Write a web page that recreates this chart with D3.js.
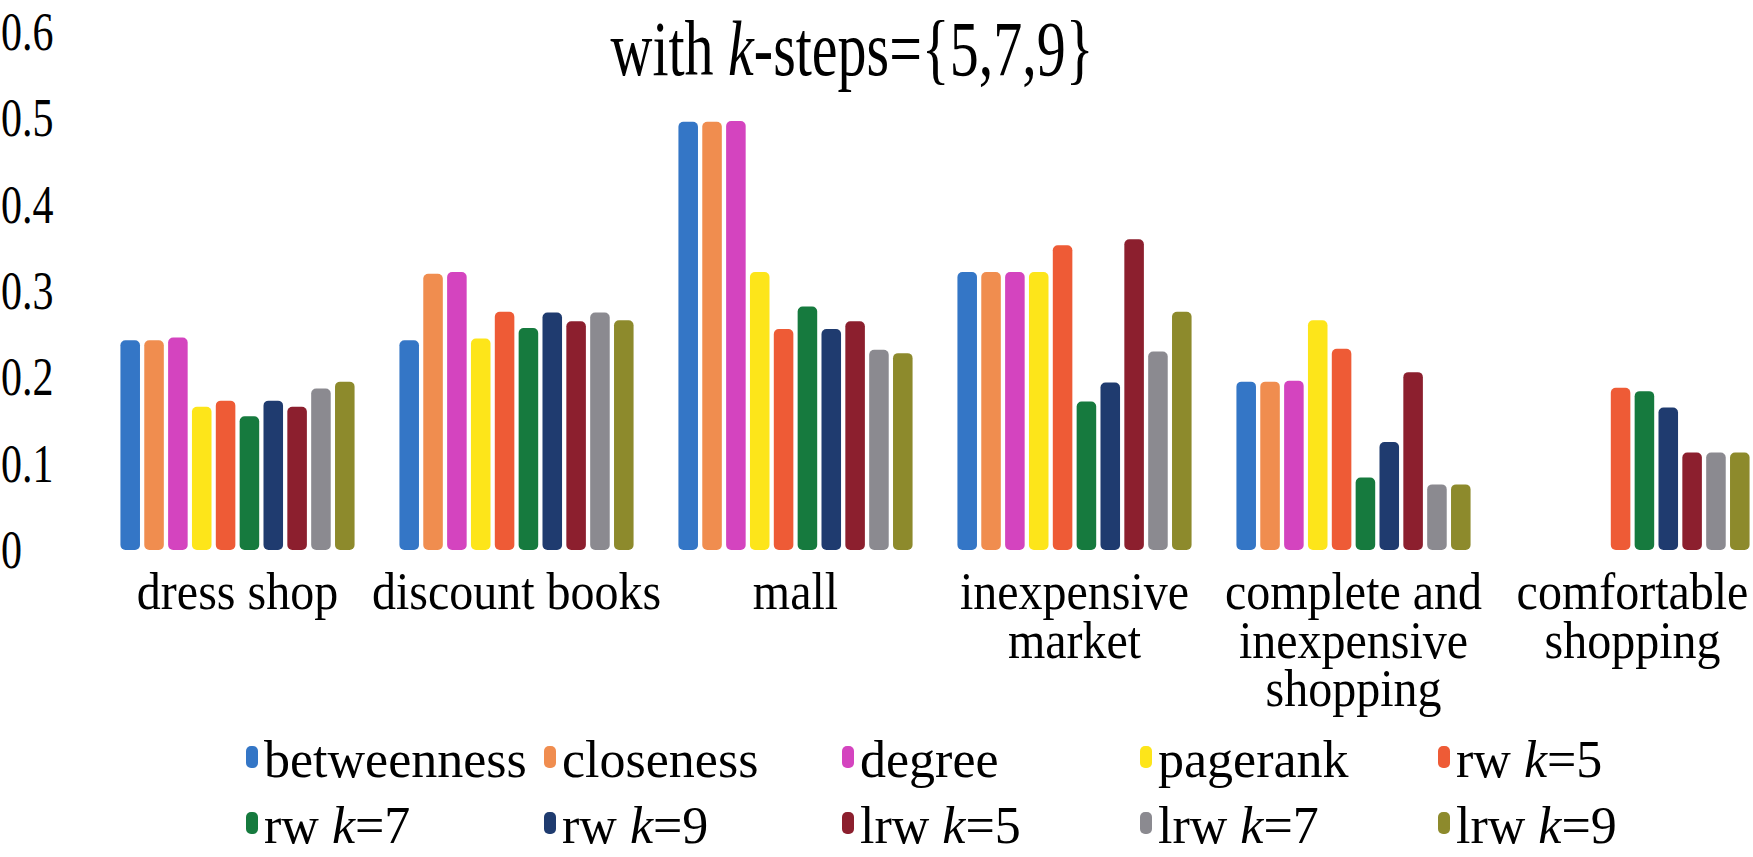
<!DOCTYPE html>
<html>
<head>
<meta charset="utf-8">
<script src="https://cdn.jsdelivr.net/npm/d3@7"></script>
<style>
  body { margin: 0; background: #fff; }
  svg { display: block; }
  svg text { font-family: "Liberation Serif", "Times New Roman", Times, "DejaVu Serif", serif; fill: #000; }
</style>
</head>
<body>
<div id="chart"></div>
<script>
// 画布大小
const width = 1753, height = 857;
const serif = "'Liberation Serif', 'Times New Roman', Times, 'DejaVu Serif', serif";

// 数据
const categories = [
  ["dress shop"],
  ["discount books"],
  ["mall"],
  ["inexpensive", "market"],
  ["complete and", "inexpensive", "shopping"],
  ["comfortable", "shopping"]
];
const seriesNames = ["betweenness", "closeness", "degree", "pagerank", "rw k=5",
                     "rw k=7", "rw k=9", "lrw k=5", "lrw k=7", "lrw k=9"];
const seriesColors = ["#3476c6", "#f08d4f", "#d444bf", "#fde51a", "#ee5b36",
                      "#167a3e", "#1f3b6f", "#8c1f2e", "#8b8a90", "#8d8a2c"];
const yTicks = [0, 0.1, 0.2, 0.3, 0.4, 0.5, 0.6];

// 每个系列在6个类别上的取值 (null = 无柱)
const betweenness = [0.243, 0.243, 0.496, 0.322, 0.195, null];
const closeness   = [0.243, 0.320, 0.496, 0.322, 0.195, null];
const degree      = [0.246, 0.322, 0.497, 0.322, 0.196, null];
const pagerank    = [0.166, 0.245, 0.322, 0.322, 0.266, null];
const rwK5        = [0.173, 0.276, 0.256, 0.353, 0.233, 0.188];
const rwK7        = [0.155, 0.257, 0.282, 0.172, 0.084, 0.184];
const rwK9        = [0.173, 0.275, 0.256, 0.194, 0.125, 0.165];
const lrwK5       = [0.166, 0.265, 0.265, 0.360, 0.206, 0.113];
const lrwK7       = [0.187, 0.275, 0.232, 0.230, 0.076, 0.113];
const lrwK9       = [0.195, 0.266, 0.228, 0.276, 0.076, 0.113];
const seriesValues = [betweenness, closeness, degree, pagerank, rwK5, rwK7, rwK9, lrwK5, lrwK7, lrwK9];

const svg = d3.select("#chart").append("svg")
  .attr("width", width)
  .attr("height", height)
  .style("font-family", serif);

// 比例尺
const x0 = d3.scaleBand()
  .domain(d3.range(categories.length))
  .range([98, 1772])
  .paddingInner(0.13)
  .paddingOuter(0.065);

const x1 = d3.scaleBand()
  .domain(d3.range(seriesNames.length))
  .range([0, x0.bandwidth()])
  .padding(0.18);

const y = d3.scaleLinear()
  .domain([0, 0.6])
  .range([550, 32]);

// 标题 (原图字体偏窄偏高，纵向拉伸)
const title = svg.append("text")
  .attr("text-anchor", "middle")
  .attr("transform", "translate(852,75) scale(1,1.35)")
  .style("font-family", serif)
  .style("font-size", "58px");
title.append("tspan").text("with ");
title.append("tspan").style("font-style", "italic").text("k");
title.append("tspan").text("-steps={5,7,9}");

// y轴 (无轴线)
const yAxis = svg.append("g")
  .attr("transform", "translate(60,0)")
  .call(d3.axisLeft(y).tickValues(yTicks).tickSize(0)
    .tickFormat(d => d === 0 ? "0" : d3.format(".1f")(d)));
yAxis.attr("font-family", null);
yAxis.select(".domain").remove();
yAxis.selectAll("text")
  .attr("x", -59)
  .attr("text-anchor", "start")
  .attr("transform", "scale(1,1.3)")
  .style("font-family", serif)
  .style("font-size", "42px");

// 柱子
const groups = svg.append("g").selectAll("g")
  .data(categories)
  .join("g")
  .attr("transform", (d, i) => `translate(${x0(i)},0)`);

groups.selectAll("rect")
  .data((d, i) => seriesValues.map((vals, s) => ({ s, v: vals[i] })).filter(e => e.v !== null))
  .join("rect")
  .attr("x", e => x1(e.s))
  .attr("y", e => y(e.v))
  .attr("width", x1.bandwidth())
  .attr("height", e => y(0) - y(e.v))
  .attr("rx", 5)
  .attr("fill", e => seriesColors[e.s]);

// 类别标签
groups.append("text")
  .attr("text-anchor", "middle")
  .attr("transform", `translate(${x0.bandwidth() / 2},609) scale(1,1.08)`)
  .style("font-family", serif)
  .style("font-size", "48px")
  .selectAll("tspan")
  .data(d => d)
  .join("tspan")
  .attr("x", 0)
  .attr("dy", (d, i) => i === 0 ? 0 : 45)
  .text(d => d);

// 图例
const legendCol = d3.scaleBand()
  .domain(d3.range(5))
  .range([246, 1736]);
const legend = svg.append("g").selectAll("g")
  .data(seriesNames)
  .join("g")
  .attr("transform", (d, i) => `translate(${legendCol(i % 5)},${i < 5 ? 777 : 843})`);

legend.append("rect")
  .attr("x", 0)
  .attr("y", -31)
  .attr("width", 12)
  .attr("height", 22)
  .attr("rx", 5)
  .attr("fill", (d, i) => seriesColors[i]);

const legendText = legend.append("text")
  .attr("x", 18)
  .style("font-family", serif)
  .style("font-size", "52px");
legendText.each(function(d) {
  const t = d3.select(this);
  const m = d.match(/^(\S+) k(=\d)$/);
  if (m) {
    t.append("tspan").text(m[1] + " ");
    t.append("tspan").style("font-style", "italic").text("k");
    t.append("tspan").text(m[2]);
  } else {
    t.text(d);
  }
});
</script>
</body>
</html>
